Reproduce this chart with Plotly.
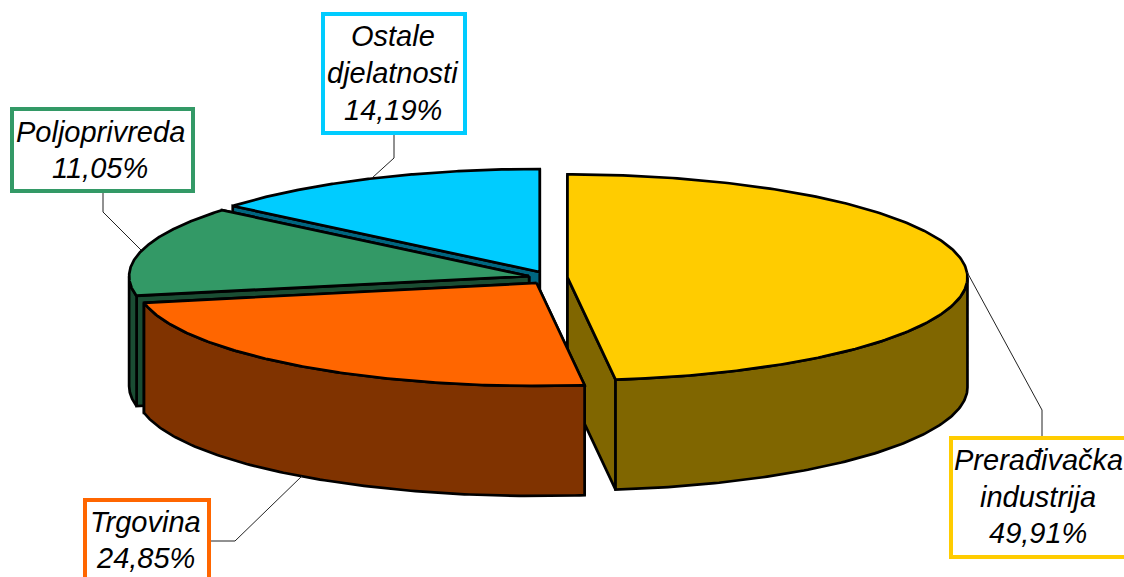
import numpy as np
import plotly.graph_objects as go

# Data
categories = ["Prerađivačka industrija", "Trgovina", "Poljoprivreda", "Ostale djelatnosti"]
label_lines = [["Prerađivačka", "industrija"], ["Trgovina"], ["Poljoprivreda"], ["Ostale", "djelatnosti"]]
shares = [49.91, 24.85, 11.05, 14.19]
top_colors = ["#FFCC00", "#FF6600", "#339966", "#00CCFF"]
side_colors = ["#806600", "#803300", "#1A4D33", "#006680"]

# Pie projection (pixel-space axes)
CX, CY = 548.0, 277.8
RX, RY = 400.0, 103.0
DEPTH = 110.0
EX, EY = 19.5, 6.4
PAINT_ORDER = [0, 3, 2, 1]


def warp(deg):
    """Perspective distortion of the original 3-D pie."""
    t = np.radians(deg)
    return deg + (-3.35 * (1 - np.cos(t)) + 6.6 * np.sin(t) - 7.5 * np.sin(2 * t))


def rim(apex, deg):
    t = np.radians(deg)
    return apex[0] + RX * np.sin(t), apex[1] - RY * np.cos(t)


fig = go.Figure()


def poly(xs, ys, fill):
    fig.add_trace(go.Scatter(
        x=list(xs) + [xs[0]], y=list(ys) + [ys[0]], mode="lines", fill="toself",
        fillcolor=fill, line=dict(color="black", width=2.7), hoverinfo="skip", showlegend=False,
    ))


# boundaries
cum = np.concatenate([[0], np.cumsum(shares)]) / sum(shares) * 360
bounds = warp(cum)
bounds[0], bounds[-1] = 0, 360

for i in PAINT_ORDER:
    a0, a1 = bounds[i], bounds[i + 1]
    mid = np.radians((a0 + a1) / 2)
    apex = (CX + EX * np.sin(mid), CY - EY * np.cos(mid))
    # radial cut faces, back first
    faces = sorted([a0, a1], key=lambda a: rim(apex, a)[1])
    for a in faces:
        rx, ry = rim(apex, a)
        poly([apex[0], rx, rx, apex[0]], [apex[1], ry, ry + DEPTH, apex[1] + DEPTH], side_colors[i])
    # outer wall (front-facing part)
    w0, w1 = max(a0, 90), min(a1, 270)
    if w1 > w0:
        th = np.linspace(w0, w1, 120)
        px, py = rim(apex, th)
        poly(np.r_[px, px[::-1]], np.r_[py, py[::-1] + DEPTH], side_colors[i])
    # top
    th = np.linspace(a0, a1, 240)
    px, py = rim(apex, th)
    poly(np.r_[apex[0], px], np.r_[apex[1], py], top_colors[i])

# Leader lines
leaders = [
    ([967, 1042, 1042], [272, 410, 437]),
    ([302, 235, 210], [476, 541, 541]),
    ([141, 103, 103], [250, 212, 192]),
    ([372, 394, 394], [178, 158, 134]),
]
for lx, ly in leaders:
    fig.add_trace(go.Scatter(x=lx, y=ly, mode="lines", line=dict(color="#222222", width=1),
                             hoverinfo="skip", showlegend=False))

# Label boxes
boxes = [(951, 438, 1140, 557), (85, 500, 209, 600), (12, 109, 193, 191), (323, 14, 465, 133)]
line_y = [[460, 497, 533], [522, 558], [132, 168], [36, 73, 110]]
text_x = [1038, 145, 100, 393]
shapes = []
annotations = []
for i, b in enumerate(boxes):
    shapes.append(dict(type="rect", xref="x", yref="y", x0=b[0], y0=b[1], x1=b[2], y1=b[3],
                       line=dict(color=top_colors[i], width=4), fillcolor="white", layer="above"))
    pct = f"{shares[i]:.2f}%".replace(".", ",")
    for txt, y in zip(label_lines[i] + [pct], line_y[i]):
        annotations.append(dict(x=text_x[i], y=y, xref="x", yref="y", text=f"<i>{txt}</i>", showarrow=False,
                                xanchor="center", yanchor="middle",
                                font=dict(family="Liberation Sans", size=29, color="black")))

fig.update_layout(
    width=1124, height=577, margin=dict(l=0, r=0, t=0, b=0),
    paper_bgcolor="white", plot_bgcolor="white", shapes=shapes, annotations=annotations,
    xaxis=dict(range=[0, 1124], visible=False, fixedrange=True),
    yaxis=dict(range=[577, 0], visible=False, fixedrange=True),
)
fig.write_html("out.html", config={"displayModeBar": False},
               post_script="document.body.style.margin='0';document.body.style.overflow='hidden';")
